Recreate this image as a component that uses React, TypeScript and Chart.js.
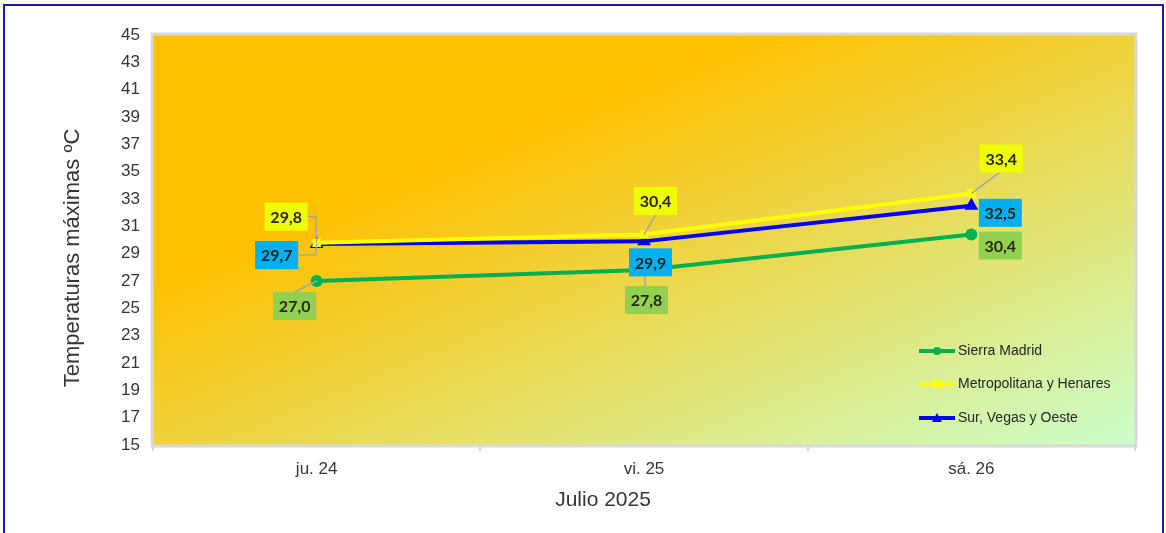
import React, { useEffect, useRef } from "react";
import { Chart, registerables } from "chart.js";

Chart.register(...registerables);

// ---------- data ----------
const categories = ["ju. 24", "vi. 25", "sá. 26"];
const sierraMadrid = [27.0, 27.8, 30.4];
const metropolitana = [29.8, 30.4, 33.4];
const surVegasOeste = [29.7, 29.9, 32.5];
const seriesNames = ["Sierra Madrid", "Metropolitana y Henares", "Sur, Vegas y Oeste"];
const yTitle = "Temperaturas máximas ºC";
const xTitle = "Julio 2025";
const yMin = 15;
const yMax = 45;
const yStep = 2;

// ---------- style ----------
const FONT = "'Liberation Sans', Arial, sans-serif";
const TEXT = "#363636";
const seriesColors = ["#00B050", "#FFFF00", "#0000FF"];
const labelBg = ["#92D050", "#EEFF00", "#00B0F0"];
const pointStyles = ["circle", "rect", "triangle"];
// label box offsets from the marker (px), leader anchors relative to box centre
const labelOffsets = [
  [[-22, 25], [2.5, 30], [29, 11]],
  [[-30.5, -26], [11.5, -33.5], [30, -35]],
  [[-40, 11], [6.5, 21], [29, 7]],
];
const leaders: (null | { ax: number; ay: number; elbow?: boolean })[][] = [
  [{ ax: 0, ay: -14 }, { ax: -1, ay: -14 }, null],
  [{ ax: 21.5, ay: 0, elbow: true }, { ax: 0, ay: 14 }, { ax: -2, ay: 14 }],
  [{ ax: 21, ay: 0, elbow: true }, null, null],
];

const fmt = (v: number) => v.toFixed(1).replace(".", ",");

const decorPlugin = {
  id: "decor",
  beforeDraw(chart: any) {
    const { ctx, chartArea: a } = chart;
    const w = a.right - a.left;
    const h = a.bottom - a.top;
    const k = (2 * w * h) / (w * w + h * h);
    const g = ctx.createLinearGradient(a.left, a.top, a.left + h * k, a.top + w * k);
    g.addColorStop(0, "#FFC000");
    g.addColorStop(0.3, "#FFC000");
    g.addColorStop(1, "#CCFFCC");
    ctx.save();
    ctx.fillStyle = g;
    ctx.fillRect(a.left, a.top, w, h);
    ctx.strokeStyle = "#D9D9D9";
    ctx.lineWidth = 3;
    ctx.strokeRect(a.left - 1, a.top - 1, w + 2, h + 2);
    ctx.restore();
  },
  afterDatasetsDraw(chart: any) {
    const { ctx, chartArea: a } = chart;
    ctx.save();
    // leader lines
    chart.data.datasets.forEach((ds: any, di: number) => {
      const meta = chart.getDatasetMeta(di);
      meta.data.forEach((pt: any, i: number) => {
        const L = leaders[di][i];
        if (!L) return;
        const cx = pt.x + labelOffsets[di][i][0];
        const cy = pt.y + labelOffsets[di][i][1];
        ctx.strokeStyle = "#A6A6A6";
        ctx.lineWidth = 1.5;
        ctx.beginPath();
        ctx.moveTo(cx + L.ax, cy + L.ay);
        if (L.elbow) ctx.lineTo(pt.x - 1, cy + L.ay);
        ctx.lineTo(pt.x, pt.y);
        ctx.stroke();
      });
    });
    // label boxes
    const bw = 43;
    const bh = 28;
    chart.data.datasets.forEach((ds: any, di: number) => {
      const meta = chart.getDatasetMeta(di);
      meta.data.forEach((pt: any, i: number) => {
        const cx = pt.x + labelOffsets[di][i][0];
        const cy = pt.y + labelOffsets[di][i][1];
        ctx.fillStyle = labelBg[di];
        ctx.fillRect(cx - bw / 2, cy - bh / 2, bw, bh);
        ctx.fillStyle = "#262626";
        ctx.font = "bold 16px Lato, 'Open Sans', sans-serif";
        ctx.textAlign = "center";
        ctx.textBaseline = "middle";
        ctx.fillText(fmt(ds.data[i]), cx, cy + 1);
      });
    });
    // legend
    const lx = a.right - 216;
    const rows = [a.top + 316, a.top + 349, a.top + 383];
    seriesNames.forEach((name, di) => {
      const y = rows[di];
      ctx.strokeStyle = seriesColors[di];
      ctx.lineWidth = 4;
      ctx.beginPath();
      ctx.moveTo(lx, y);
      ctx.lineTo(lx + 36, y);
      ctx.stroke();
      ctx.fillStyle = seriesColors[di];
      const mx = lx + 18;
      if (di === 0) {
        ctx.beginPath();
        ctx.arc(mx, y, 4, 0, Math.PI * 2);
        ctx.fill();
      } else if (di === 1) {
        ctx.fillRect(mx - 4, y - 4, 8, 8);
      } else {
        ctx.beginPath();
        ctx.moveTo(mx, y - 5);
        ctx.lineTo(mx + 5, y + 4);
        ctx.lineTo(mx - 5, y + 4);
        ctx.closePath();
        ctx.fill();
      }
      ctx.fillStyle = "#262626";
      ctx.font = `14px ${FONT}`;
      ctx.textAlign = "left";
      ctx.textBaseline = "middle";
      ctx.fillText(name, lx + 39, y);
    });
    ctx.restore();
  },
  afterDraw(chart: any) {
    const { ctx } = chart;
    ctx.save();
    ctx.fillStyle = TEXT;
    ctx.font = `22px ${FONT}`;
    ctx.textAlign = "center";
    ctx.textBaseline = "middle";
    ctx.translate(73, 258);
    ctx.rotate(-Math.PI / 2);
    ctx.fillText(yTitle, 0, 0);
    ctx.restore();
    ctx.save();
    ctx.fillStyle = TEXT;
    ctx.font = `21px ${FONT}`;
    ctx.textAlign = "center";
    ctx.textBaseline = "middle";
    ctx.fillText(xTitle, 603, 500);
    ctx.restore();
  },
};

export default function App() {
  const ref = useRef<HTMLCanvasElement | null>(null);
  useEffect(() => {
    if (!ref.current) return;
    const seriesData = [sierraMadrid, metropolitana, surVegasOeste];
    const chart = new Chart(ref.current, {
      type: "line",
      data: {
        labels: categories,
        datasets: seriesData.map((d, i) => ({
          label: seriesNames[i],
          data: d,
          borderColor: seriesColors[i],
          backgroundColor: seriesColors[i],
          borderWidth: 4,
          pointStyle: pointStyles[i] as any,
          pointRadius: i === 2 ? 8 : 6,
          pointBorderWidth: 0,
          tension: 0,
          fill: false,
        })),
      },
      options: {
        responsive: false,
        animation: false,
        layout: { padding: { left: 0, right: 31, top: 35, bottom: 0 } },
        plugins: {
          legend: { display: false },
          tooltip: { enabled: false },
          title: { display: false },
        },
        scales: {
          x: {
            offset: true,
            grid: {
              display: true,
              offset: true,
              drawOnChartArea: false,
              drawTicks: true,
              tickLength: 6,
              color: "#D9D9D9",
              lineWidth: 2,
            },
            border: { display: false },
            ticks: {
              color: TEXT,
              font: { family: FONT, size: 17 },
              padding: 8,
            },
            afterFit(scale: any) {
              scale.height = 88;
            },
          },
          y: {
            min: yMin,
            max: yMax,
            grid: { display: false, drawTicks: false },
            border: { display: false },
            ticks: {
              stepSize: yStep,
              color: TEXT,
              font: { family: FONT, size: 17 },
              padding: 13,
            },
            afterFit(scale: any) {
              scale.width = 153;
            },
          },
        },
      },
      plugins: [decorPlugin],
    });
    return () => chart.destroy();
  }, []);

  return (
    <div
      style={{
        position: "fixed",
        left: 0,
        top: 0,
        width: 1166,
        height: 533,
        overflow: "hidden",
        background: "#FFFFFF",
      }}
    >
      <div
        style={{
          position: "absolute",
          left: 3,
          top: 4,
          width: 1157,
          height: 600,
          border: "2px solid #1C1C9C",
        }}
      />
      <canvas ref={ref} width={1166} height={533} style={{ position: "absolute", left: 0, top: 0 }} />
    </div>
  );
}
